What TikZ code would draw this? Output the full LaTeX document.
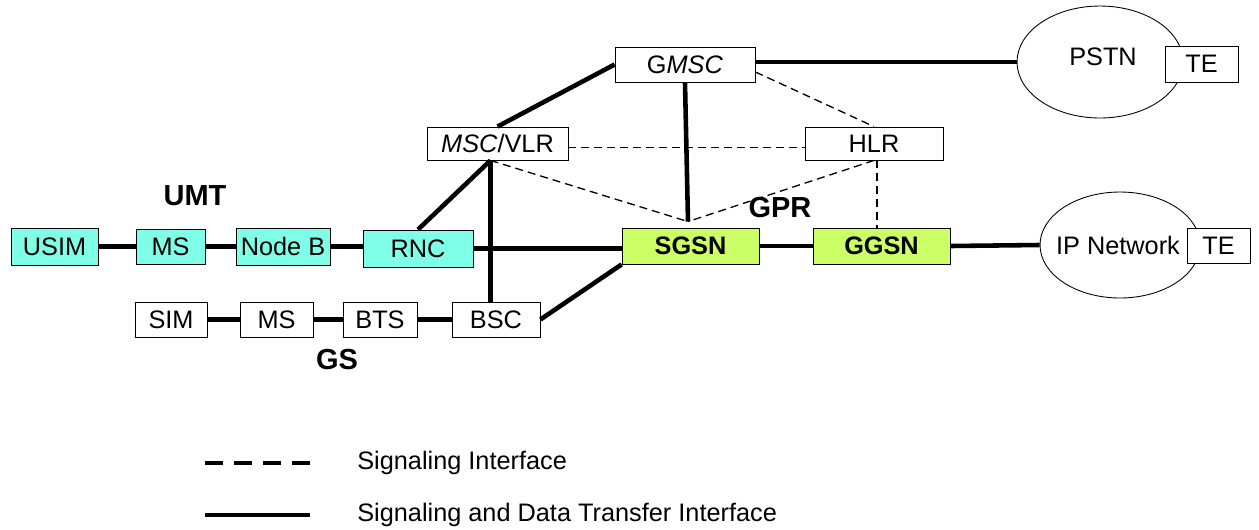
\documentclass[tikz,border=0pt]{standalone}
\usepackage{fontspec}
\setmainfont{Liberation Sans}
\usetikzlibrary{shapes.geometric, calc}
\definecolor{umtsfill}{RGB}{128,255,232}
\definecolor{gprsfill}{RGB}{204,255,102}

\begin{document}
\begin{tikzpicture}[x=0.02cm, y=-0.02cm, every node/.style={font=\fontsize{14.4}{17}\selectfont, inner sep=0pt},
  box/.style={draw, line width=0.5pt, fill=white},
  umts/.style={box, fill=umtsfill},
  gprs/.style={box, fill=gprsfill, font=\fontsize{14.4}{17}\selectfont\bfseries},
  netcloud/.style={draw, ellipse, line width=0.5pt},
  grouplbl/.style={font=\fontsize{16.5}{19}\selectfont\bfseries},
  data/.style={line width=2.6pt},
  sig/.style={line width=0.75pt, dash pattern=on 0.16cm off 0.1cm}]
  \useasboundingbox (0,0) rectangle (1259,529);
  % core network
  \node[box, minimum width=2.8cm, minimum height=0.7cm] (gmsc) at (685,64.5) {G\textit{MSC}};
  \node[box, minimum width=2.82cm, minimum height=0.66cm] (msc) at (497.5,143.5) {\textit{MSC}/VLR};
  \node[box, minimum width=2.76cm, minimum height=0.66cm] (hlr) at (874,143.5) {HLR};
  \node[gprs, minimum width=2.74cm, minimum height=0.72cm] (sgsn) at (690.5,246) {SGSN};
  \node[gprs, minimum width=2.74cm, minimum height=0.72cm] (ggsn) at (881.5,246) {GGSN};
  \node[grouplbl] (gprlbl) at (780,208) {GPR};
  % outside networks
  \node[netcloud, minimum width=3.32cm, minimum height=2.24cm] (pstn) at (1100,62) {};
  \node (pstntxt) at (1103,57) {PSTN};
  \node[box, minimum width=1.46cm, minimum height=0.72cm] (tepstn) at (1201.5,64) {TE};
  \node[netcloud, minimum width=3.2cm, minimum height=2.12cm] (ipnet) at (1120,245) {};
  \node (iptxt) at (1118,245) {IP Network};
  \node[box, minimum width=1.26cm, minimum height=0.7cm] (teip) at (1218.5,245.5) {TE};
  % UMTS access
  \node[umts, minimum width=1.74cm, minimum height=0.74cm] (usim) at (54.5,246.5) {USIM};
  \node[umts, minimum width=1.38cm, minimum height=0.7cm] (ums) at (170.5,246.5) {MS};
  \node[umts, minimum width=1.88cm, minimum height=0.74cm] (nodeb) at (283,246.5) {Node B};
  \node[umts, minimum width=2.2cm, minimum height=0.74cm] (rnc) at (418,248.5) {RNC};
  \node[grouplbl] (umtlbl) at (195,196) {UMT};
  % GSM access
  \node[box, minimum width=1.44cm, minimum height=0.7cm] (sim) at (171,319.5) {SIM};
  \node[box, minimum width=1.46cm, minimum height=0.7cm] (gms) at (276.5,319.5) {MS};
  \node[box, minimum width=1.48cm, minimum height=0.7cm] (bts) at (380,319.5) {BTS};
  \node[box, minimum width=1.76cm, minimum height=0.7cm] (bsc) at (496,319.5) {BSC};
  \node[grouplbl] (gslbl) at (337,360) {GS};

  \coordinate (mscf) at ($(msc.south)+(-7,0)$);
  \coordinate (apex) at ($(sgsn.north)+(-2.5,-6)$);
  \coordinate (hlrf) at ($(hlr.south)+(3,0)$);

  \draw[data] (usim.east) -- (ums.west);
  \draw[data] (ums.east) -- (nodeb.west);
  \draw[data] (nodeb.east) -- (nodeb.east -| rnc.west);
  \draw[data] (rnc.east) -- (rnc.east -| sgsn.west);
  \draw[data] (rnc.north) -- (mscf);
  \draw[data] (mscf) -- (mscf |- bsc.north);
  \draw[data] (sim.east) -- (gms.west);
  \draw[data] (gms.east) -- (bts.west);
  \draw[data] (bts.east) -- (bsc.west);
  \draw[data] (bsc.east) -- (sgsn.south west);
  \draw[data] (gmsc.west) -- (msc.north);
  \draw[data] (gmsc.south) -- (apex);
  \draw[data] ([yshift=0.05cm]gmsc.east) -- ([yshift=0.05cm]gmsc.east -| pstn.west);
  \draw[data] (sgsn.east) -- (ggsn.west);
  \draw[data] (ggsn.east) -- (ipnet.west);
  \draw[sig] ([yshift=-0.08cm]msc.east) -- ([yshift=-0.08cm]hlr.west);
  \draw[sig] (mscf) -- (apex);
  \draw[sig] (hlr.south) -- (apex);
  \draw[sig] ([yshift=-0.15cm]gmsc.east) -- (hlr.north);
  \draw[sig] (hlrf) -- (hlrf |- ggsn.north);

  % legend
  \coordinate (sigA) at (205,463);
  \coordinate (sigB) at (310,463);
  \coordinate (dataA) at (205,515);
  \coordinate (dataB) at (310,515);
  \draw[line width=1.8pt, dash pattern=on 0.36cm off 0.22cm] (sigA) -- (sigB);
  \draw[data] (dataA) -- (dataB);
  \node[anchor=west] (sigtxt) at (357,463) {Signaling Interface};
  \node[anchor=west] (datatxt) at (357,515) {Signaling and Data Transfer Interface};
\end{tikzpicture}
\end{document}
